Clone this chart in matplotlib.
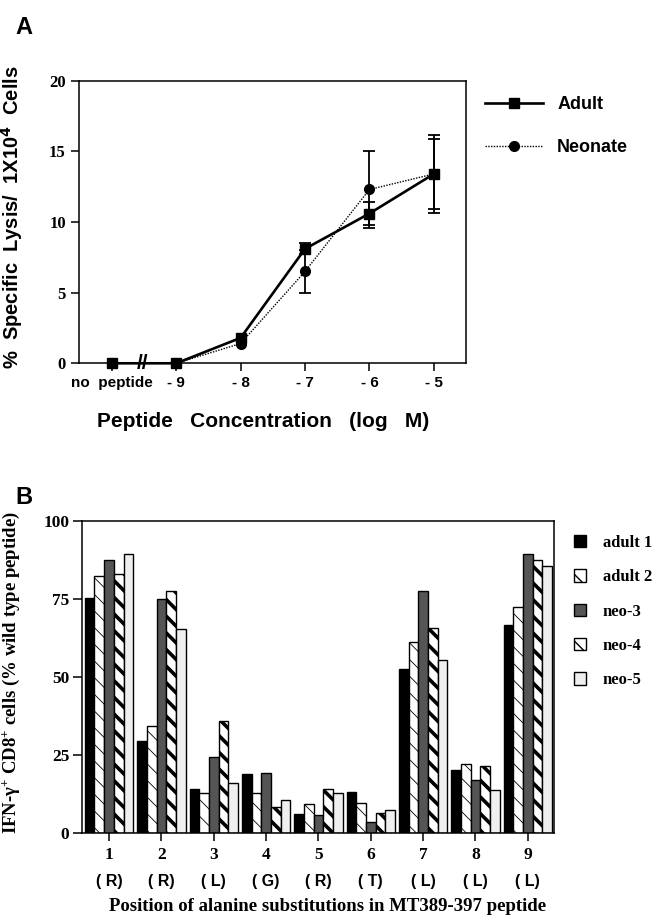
import numpy as np
import matplotlib
matplotlib.use("Agg")
import matplotlib.pyplot as plt

plt.rcParams['mathtext.fontset'] = 'custom'
plt.rcParams['mathtext.rm'] = 'Liberation Serif:bold'
plt.rcParams['mathtext.it'] = 'Liberation Serif:bold'
plt.rcParams['mathtext.bf'] = 'Liberation Serif:bold'

SANS = ['Liberation Sans', 'DejaVu Sans']
SERIF = ['Liberation Serif', 'DejaVu Serif']

# ---- panel A data: lysis vs peptide concentration ----
conc_labels = ['no  peptide', '- 9', '- 8', '- 7', '- 6', '- 5']
adult = [0, 0, 1.8, 8.1, 10.6, 13.4]
adult_err = [0, 0, 0, 0.4, 0.78, 2.45]
neonate = [0, 0, 1.4, 6.5, 12.3, 13.4]
neonate_err = [0, 0, 0, 1.5, 2.7, 2.73]

# ---- panel B data: alanine substitutions ----
positions = [1, 2, 3, 4, 5, 6, 7, 8, 9]
residues = ['( R)', '( R)', '( L)', '( G)', '( R)', '( T)', '( L)', '( L)', '( L)']
adult1 = [75.2, 29.5, 14.0, 18.7, 6.1, 13.2, 52.6, 20.0, 66.5]
adult2 = [82.4, 34.2, 12.8, 12.6, 9.2, 9.6, 61.2, 22.2, 72.3]
neo3 = [87.5, 74.9, 24.3, 19.3, 5.6, 3.6, 77.4, 16.8, 89.3]
neo4 = [83.0, 77.5, 35.7, 8.2, 14.1, 6.3, 65.6, 21.4, 87.5]
neo5 = [89.3, 65.3, 15.8, 10.5, 12.6, 7.3, 55.4, 13.6, 85.6]
series_names = ['adult 1', 'adult 2', 'neo-3', 'neo-4', 'neo-5']

fig = plt.figure(figsize=(6.56, 9.23), dpi=100)

# ================= Panel A =================
axA = fig.add_axes([0.1204, 0.6064, 0.590, 0.3062])
x = np.arange(len(conc_labels))

for vals, errs in [(adult, adult_err), (neonate, neonate_err)]:
    v = np.array(vals, dtype=float)
    e = np.array(errs, dtype=float)
    m = e > 0
    axA.errorbar(x[m], v[m], yerr=e[m], fmt='none', ecolor='black',
                 elinewidth=1.3, capsize=4, capthick=1.3, zorder=2)

axA.plot(x, adult, '-s', color='black', lw=1.9, ms=7.5, clip_on=False,
         zorder=4, label='Adult')
axA.plot(x, neonate, linestyle=(0, (1, 1)), marker='o', color='black',
         lw=1.0, ms=7, clip_on=False, zorder=3, label='Neonate')

axA.set_xlim(-0.51, 5.5)
axA.set_ylim(0, 20)
axA.set_yticks([0, 5, 10, 15, 20])
axA.set_xticks(x)
axA.set_xticklabels(conc_labels, family=SANS, weight='bold', fontsize=11)
for lab in axA.get_yticklabels():
    lab.set_family(SERIF)
    lab.set_weight('bold')
    lab.set_fontsize(12)
axA.tick_params(direction='out', length=5.5, width=1.1, pad=4)
for s in axA.spines.values():
    s.set_linewidth(1.1)

# axis break mark
axA.text(0.48, 0, '//', ha='center', va='center', fontsize=15,
         weight='bold', family=SANS, clip_on=False, zorder=5)

axA.set_ylabel('%  Specific  Lysis/  1X10$^{\\mathbf{4}}$  Cells',
               family=SANS, weight='bold', fontsize=14.5,
               math_fontfamily='dejavusans')
axA.yaxis.set_label_coords(-0.14, 0.518)
axA.set_xlabel('Peptide   Concentration   (log   M)', family=SANS,
               weight='bold', fontsize=15)
axA.xaxis.set_label_coords(0.475, -0.172)

axA.legend(loc='upper left', bbox_to_anchor=(1.049, 0.945), frameon=False,
           prop={'family': SANS, 'weight': 'bold', 'size': 13},
           handlelength=3.2, handletextpad=0.8, labelspacing=1.43,
           borderpad=0, borderaxespad=0)

fig.text(24 / 656, 1 - 27 / 923, 'A', family=SANS, weight='bold',
         fontsize=17, ha='center', va='center')

# ================= Panel B =================
axB = fig.add_axes([0.1255, 0.0978, 0.719, 0.3377])
pos = np.array(positions, dtype=float)
width = 0.185
styles = [
    dict(fc='black', hatch=None, hlw=None),
    dict(fc='white', hatch='\\\\', hlw=0.6),
    dict(fc='#555555', hatch=None, hlw=None),
    dict(fc='white', hatch='\\\\', hlw=2.6),
    dict(fc='#efefef', hatch=None, hlw=None),
]
all_series = [adult1, adult2, neo3, neo4, neo5]
for i, (vals, name, st) in enumerate(zip(all_series, series_names, styles)):
    bars = axB.bar(pos + (i - 2) * width, vals, width, color=st['fc'],
                   edgecolor='black', linewidth=1.0, hatch=st['hatch'],
                   label=name, zorder=2)
    if st['hlw'] is not None:
        for b in bars:
            if hasattr(b, 'set_hatch_linewidth'):
                b.set_hatch_linewidth(st['hlw'])

axB.set_xlim(0.49, 9.5)
axB.set_ylim(0, 100)
axB.set_yticks([0, 25, 50, 75, 100])
axB.set_xticks(pos)
axB.set_xticklabels([str(p) for p in positions], family=SERIF,
                    weight='bold', fontsize=12.5)
for lab in axB.get_yticklabels():
    lab.set_family(SERIF)
    lab.set_weight('bold')
    lab.set_fontsize(12.5)
axB.tick_params(axis='y', direction='out', length=6.5, width=1.1, pad=3)
axB.tick_params(axis='x', direction='out', length=6, width=1.1, pad=4)
for s in axB.spines.values():
    s.set_linewidth(1.1)

for p, r in zip(positions, residues):
    axB.text(p, -0.158, r, transform=axB.get_xaxis_transform(),
             ha='center', va='center', family=SANS, weight='bold',
             fontsize=11.5)

axB.set_ylabel('IFN-γ$^{+}$ CD8$^{+}$ cells (% wild type peptide)',
               family=SERIF, weight='bold', fontsize=13.5)
axB.yaxis.set_label_coords(-0.128, 0.515)
axB.set_xlabel('Position of alanine substitutions in MT389-397 peptide',
               family=SERIF, weight='bold', fontsize=13.5)
axB.xaxis.set_label_coords(0.52, -0.21)

axB.legend(loc='upper left', bbox_to_anchor=(1.042, 0.955), frameon=False,
           prop={'family': SERIF, 'weight': 'bold', 'size': 12},
           handlelength=0.75, handleheight=0.75, handletextpad=1.0,
           labelspacing=1.1, borderpad=0, borderaxespad=0)

fig.text(24 / 656, 1 - 497 / 923, 'B', family=SANS, weight='bold',
         fontsize=17, ha='center', va='center')

fig.savefig('out.png', dpi=100)
